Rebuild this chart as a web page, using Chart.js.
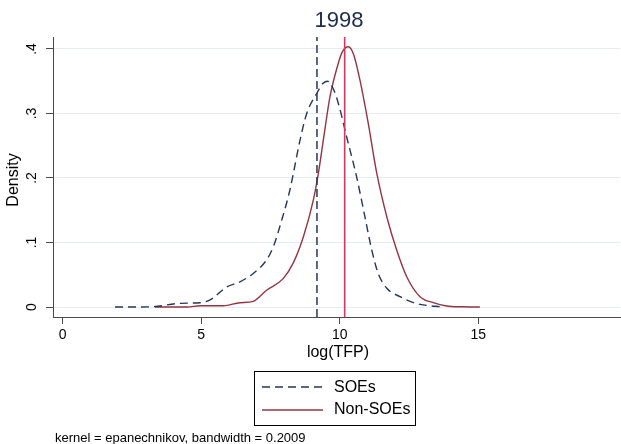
<!DOCTYPE html>
<html>
<head>
<meta charset="utf-8">
<script src="https://cdn.jsdelivr.net/npm/chart.js@4.4.1/dist/chart.umd.min.js"></script>
<style>
  html, body { margin: 0; padding: 0; background: #ffffff; }
  #c { display: block; }
</style>
</head>
<body>
<canvas id="c" width="621" height="444" style="width:621px;height:444px"></canvas>
<script>
// ---------------- data ----------------
const chartTitle = '1998';
const xTitle = 'log(TFP)';
const yTitle = 'Density';
const noteText = 'kernel = epanechnikov, bandwidth = 0.2009';
const seriesNames = ['SOEs', 'Non-SOEs'];

const xTicks = [0, 5, 10, 15];
const xTickLabels = ['0', '5', '10', '15'];
const yTicks = [0, 0.1, 0.2, 0.3, 0.4];
const yTickLabels = ['0', '.1', '.2', '.3', '.4'];
const xRange = [-0.35, 20.12];
const yRange = [-0.0155, 0.4186];

const soeX = [1.89, 2.67, 3.27, 4.24, 4.96, 5.32, 5.92, 6.40, 6.88, 7.36, 7.60, 7.91, 8.20, 8.57, 8.81, 9.17, 9.40, 9.57, 9.75, 9.95, 10.25, 10.61, 10.91, 11.16, 11.39, 11.70, 12.18, 12.66, 13.14, 13.62];
const soeY = [0, 0, 0.0005, 0.0057, 0.0067, 0.011, 0.031, 0.039, 0.052, 0.073, 0.093, 0.135, 0.181, 0.259, 0.300, 0.331, 0.347, 0.350, 0.340, 0.316, 0.264, 0.202, 0.140, 0.088, 0.052, 0.029, 0.016, 0.0067, 0.0026, 0.0005];

const nonX = [3.33, 4.48, 4.96, 5.80, 6.40, 6.88, 7.36, 7.96, 8.32, 8.69, 9.05, 9.23, 9.41, 9.65, 9.95, 10.10, 10.31, 10.50, 10.73, 11.03, 11.34, 11.70, 12.06, 12.42, 12.90, 13.38, 13.86, 14.40, 15.06];
const nonY = [0, 0, 0.002, 0.002, 0.0067, 0.0088, 0.026, 0.044, 0.068, 0.109, 0.166, 0.207, 0.259, 0.326, 0.378, 0.396, 0.4036, 0.392, 0.352, 0.285, 0.207, 0.140, 0.088, 0.047, 0.016, 0.0067, 0.0016, 0.0003, 0];

const soeMean = 9.18;
const nonMean = 10.18;

// ---------------- styles ----------------
const FONT = '"Liberation Sans", Arial, Helvetica, sans-serif';
const navy = '#24365c';
const maroon = '#923540';
const crimson = '#d03a5c';
const gridCol = '#e4ecef';
const axisCol = '#4a4a4a';

const pts = (xs, ys) => xs.map((x, i) => ({ x: x, y: ys[i] }));

const decor = {
  id: 'decor',
  afterDraw(chart) {
    const ctx = chart.ctx;
    const xs = chart.scales.x, ys = chart.scales.y;
    ctx.save();
    // title
    ctx.fillStyle = '#1c2c4c';
    ctx.font = '22px ' + FONT;
    ctx.textAlign = 'center';
    ctx.textBaseline = 'alphabetic';
    ctx.fillText(chartTitle, 339, 27);

    // y tick labels (rotated)
    ctx.fillStyle = '#000';
    ctx.font = '14px ' + FONT;
    yTicks.forEach((v, i) => {
      const py = ys.getPixelForValue(v);
      ctx.save();
      ctx.translate(32, py);
      ctx.rotate(-Math.PI / 2);
      ctx.textAlign = 'center';
      ctx.textBaseline = 'middle';
      ctx.fillText(yTickLabels[i], 0, 0);
      ctx.restore();
    });
    // y title
    ctx.save();
    ctx.font = '16px ' + FONT;
    ctx.translate(14, 180);
    ctx.rotate(-Math.PI / 2);
    ctx.textAlign = 'center';
    ctx.textBaseline = 'middle';
    ctx.fillText(yTitle, 0, 0);
    ctx.restore();

    // x tick labels
    ctx.font = '14px ' + FONT;
    ctx.textAlign = 'center';
    ctx.textBaseline = 'middle';
    xTicks.forEach((v, i) => {
      ctx.fillText(xTickLabels[i], xs.getPixelForValue(v), 335.5);
    });
    // x title
    ctx.font = '16px ' + FONT;
    ctx.fillText(xTitle, 338, 353);

    // legend
    ctx.strokeStyle = '#000';
    ctx.lineWidth = 1;
    ctx.strokeRect(254.5, 371.5, 161, 54);
    ctx.lineWidth = 1.4;
    ctx.strokeStyle = navy;
    ctx.setLineDash([8, 5]);
    ctx.beginPath(); ctx.moveTo(262, 387); ctx.lineTo(323, 387); ctx.stroke();
    ctx.setLineDash([]);
    ctx.strokeStyle = maroon;
    ctx.beginPath(); ctx.moveTo(262, 410); ctx.lineTo(323, 410); ctx.stroke();
    ctx.fillStyle = '#000';
    ctx.font = '16px ' + FONT;
    ctx.textAlign = 'left';
    ctx.textBaseline = 'middle';
    ctx.fillText(seriesNames[0], 334, 387.5);
    ctx.fillText(seriesNames[1], 334, 410);

    // note
    ctx.font = '13px ' + FONT;
    ctx.textBaseline = 'alphabetic';
    ctx.fillText(noteText, 55, 442);
    ctx.restore();
  }
};

new Chart(document.getElementById('c'), {
  type: 'scatter',
  data: {
    datasets: [
      {
        label: seriesNames[0] + ' mean',
        data: [{ x: soeMean, y: yRange[0] }, { x: soeMean, y: yRange[1] }],
        showLine: true, borderColor: navy, borderWidth: 1.5, borderDash: [8, 4],
        pointRadius: 0, fill: false
      },
      {
        label: seriesNames[1] + ' mean',
        data: [{ x: nonMean, y: yRange[0] }, { x: nonMean, y: yRange[1] }],
        showLine: true, borderColor: crimson, borderWidth: 1.6,
        pointRadius: 0, fill: false
      },
      {
        label: seriesNames[0],
        data: pts(soeX, soeY),
        showLine: true, borderColor: navy, borderWidth: 1.4, borderDash: [8, 5],
        pointRadius: 0, fill: false, cubicInterpolationMode: 'monotone'
      },
      {
        label: seriesNames[1],
        data: pts(nonX, nonY),
        showLine: true, borderColor: maroon, borderWidth: 1.4,
        pointRadius: 0, fill: false, cubicInterpolationMode: 'monotone'
      }
    ]
  },
  options: {
    responsive: false,
    devicePixelRatio: 1,
    animation: false,
    layout: { padding: { top: 37, right: 1, left: 0, bottom: 0 } },
    plugins: { legend: { display: false }, tooltip: { enabled: false }, title: { display: false } },
    scales: {
      x: {
        type: 'linear', min: xRange[0], max: xRange[1],
        afterBuildTicks: s => { s.ticks = xTicks.map(v => ({ value: v })); },
        afterFit: s => { s.height = 127; },
        ticks: { display: false },
        grid: { display: true, drawOnChartArea: false, drawTicks: true, tickLength: 7, color: 'rgba(0,0,0,0)', tickColor: axisCol, tickWidth: 1 },
        border: { display: true, color: axisCol, width: 1 }
      },
      y: {
        type: 'linear', min: yRange[0], max: yRange[1],
        afterBuildTicks: s => { s.ticks = yTicks.map(v => ({ value: v })); },
        afterFit: s => { s.width = 53; },
        ticks: { display: false },
        grid: { display: true, drawOnChartArea: true, drawTicks: true, tickLength: 7, color: gridCol, lineWidth: 1, tickColor: axisCol, tickWidth: 1 },
        border: { display: true, color: axisCol, width: 1 }
      }
    }
  },
  plugins: [decor]
});
</script>
</body>
</html>
